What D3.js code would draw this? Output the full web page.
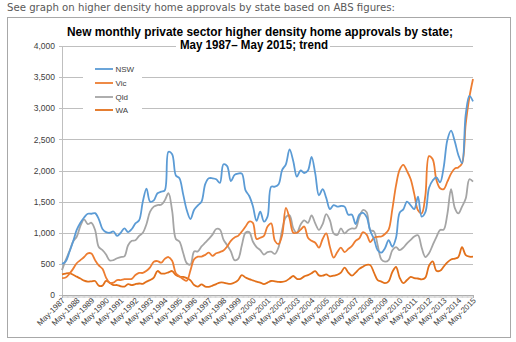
<!DOCTYPE html>
<html>
<head>
<meta charset="utf-8">
<script src="https://cdn.jsdelivr.net/npm/d3@7"></script>
<style>
html,body{margin:0;padding:0;background:#fff;}
svg{display:block;}
</style>
</head>
<body>
<svg id="chart" width="516" height="342"></svg>
<script>
// ---- DATA (quarterly readings, May 1987 – May 2015) ----
const startMonth = "1987-05";
const stepMonths = 3;
const seriesNames = ["NSW", "Vic", "Qld", "WA"];
const nsw = [500,540,690,860,1045,1160,1245,1305,1305,1315,1220,1060,1010,1000,1020,950,1000,1070,1010,1060,
  1150,1200,1500,1710,1500,1520,1635,1660,1680,2300,2260,1920,1875,1620,1360,1220,1370,1440,1500,1780,
  1875,1875,1860,1800,2100,2070,1830,1930,1950,1950,1680,1590,1430,1190,1340,1180,1260,1740,1740,1780,
  2010,2100,2340,2150,1900,2000,1960,2000,2220,1950,1600,1700,1560,1380,1445,1420,1430,1420,1290,1290,
  1140,1290,1320,1250,1030,900,720,680,750,880,775,920,1320,1375,1500,1440,1380,1580,1260,1330,
  1720,1840,1890,1810,2050,2490,2640,2470,2250,2120,2900,3200,3110];
const vic = [270,280,340,420,510,560,610,670,665,560,475,420,280,195,200,240,240,255,255,260,
  320,355,355,390,445,535,545,520,580,610,550,350,300,255,230,400,575,615,618,645,
  680,630,670,690,715,780,870,925,950,1020,1100,1180,1160,900,920,950,1100,1150,870,820,
  965,1400,1230,1000,1000,1050,1100,920,870,840,760,900,990,770,600,690,760,690,740,790,
  870,910,1010,970,850,920,935,940,980,1050,1380,1760,2010,2090,1990,1860,1620,1360,1310,1600,
  2230,2180,1850,1715,1700,1820,1950,2030,2050,2115,2750,3180,3470];
const qld = [400,560,700,860,935,1110,1215,1140,1160,1045,770,720,650,555,560,590,610,620,800,870,
  880,950,1000,1140,1340,1420,1445,1450,1520,1635,1350,900,860,680,510,490,700,700,780,840,
  900,970,1060,1050,890,800,700,560,580,800,1000,1010,860,770,720,650,690,695,660,770,
  1050,1250,1280,1070,1000,1130,1200,1160,1280,1150,1045,1140,1300,1200,990,965,1070,990,1045,1070,
  1070,1250,1365,1330,1045,1020,800,570,535,560,720,770,720,760,830,885,940,960,760,610,
  670,800,930,1045,1050,1300,1700,1400,1310,1420,1550,1860,1820];
const wa = [330,345,350,325,295,265,230,215,220,225,150,150,225,195,160,160,140,135,175,160,
  175,185,180,215,240,280,385,345,345,365,385,320,295,290,270,235,160,135,170,135,
  130,150,175,200,200,185,180,200,240,320,280,255,235,215,200,175,200,225,220,210,
  210,225,265,305,260,260,300,320,350,385,315,310,330,300,310,325,360,440,360,310,
  360,420,455,485,480,360,240,215,190,220,370,450,280,190,240,290,270,265,250,280,
  470,540,390,390,455,525,570,585,610,770,640,615,615];
const yTicks = [0,500,1000,1500,2000,2500,3000,3500,4000];
const xTickLabels = ["May-1987","May-1988","May-1989","May-1990","May-1991","May-1992","May-1993",
  "May-1994","May-1995","May-1996","May-1997","May-1998","May-1999","May-2000","May-2001","May-2002",
  "May-2003","May-2004","May-2005","May-2006","May-2007","May-2008","May-2009","May-2010","May-2011",
  "May-2012","May-2013","May-2014","May-2015"];
const subtitleText = "See graph on higher density home approvals by state based on ABS figures:";
const titleLine1 = "New monthly private sector higher density home approvals by state;";
const titleLine2 = "May 1987\u2013 May 2015; trend";

// ---- BUILD ----
const parseMonth = d3.timeParse("%Y-%m");
const parseLabel = d3.timeParse("%b-%Y");
const t0 = parseMonth(startMonth);
const dates = nsw.map((_, i) => d3.timeMonth.offset(t0, i * stepMonths));
const allSeries = [nsw, vic, qld, wa];
const colors = ["#5B9BD5", "#ED7D31", "#A5A5A5", "#E2701A"];

const svg = d3.select("#chart");
const font = "'Liberation Sans', Arial, sans-serif";

const L = 62, R = 473, T = 46, B = 295;
const x = d3.scaleTime().domain([dates[0], dates[dates.length - 1]]).range([L, R]);
const y = d3.scaleLinear().domain([0, 4000]).range([B, T]);

// subtitle
svg.append("text").attr("x", 7).attr("y", 11)
  .attr("font-family", "'DejaVu Sans', sans-serif").attr("font-size", 10.5)
  .attr("fill", "#595959").attr("textLength", 388).attr("lengthAdjust", "spacingAndGlyphs")
  .text(subtitleText);

// chart border
svg.append("rect").attr("x", 7.5).attr("y", 17.5).attr("width", 503).attr("height", 320)
  .attr("fill", "#fff").attr("stroke", "#a8a8a8").attr("stroke-width", 1);

// gridlines
const grid = svg.append("g").attr("transform", `translate(${L},0)`)
  .call(d3.axisLeft(y).tickValues(yTicks).tickSize(-(R - L)).tickFormat(""));
grid.select(".domain").remove();
grid.selectAll("line").attr("stroke", "#bfbfbf").attr("shape-rendering", "crispEdges");

// y axis labels
const yAx = svg.append("g").attr("transform", `translate(${L},0)`)
  .call(d3.axisLeft(y).tickValues(yTicks).tickSize(3).tickFormat(d3.format(",")));
yAx.select(".domain").attr("stroke", "#bfbfbf").attr("shape-rendering", "crispEdges");
yAx.selectAll("line").attr("stroke", "#bfbfbf").attr("shape-rendering", "crispEdges");
yAx.selectAll("text").attr("font-family", font).attr("font-size", 8.5).attr("fill", "#404040")
  .attr("x", -7);

// x axis: monthly minor ticks
const months = d3.timeMonth.range(dates[0], d3.timeMonth.offset(dates[dates.length - 1], 1));
const xMinor = svg.append("g").attr("transform", `translate(0,${B})`)
  .call(d3.axisBottom(x).tickValues(months).tickSize(3).tickFormat(""));
xMinor.select(".domain").attr("stroke", "#a6a6a6").attr("shape-rendering", "crispEdges");
xMinor.selectAll("line").attr("stroke", "#b8b8b8").attr("stroke-width", 0.6);

// x axis labels
const labelDates = xTickLabels.map(s => parseLabel(s));
const xLab = svg.append("g").attr("transform", `translate(0,${B})`)
  .call(d3.axisBottom(x).tickValues(labelDates).tickSize(0)
    .tickFormat((d, i) => xTickLabels[i]));
xLab.select(".domain").remove();
xLab.selectAll("text")
  .attr("font-family", font).attr("font-size", 8).attr("fill", "#404040")
  .attr("text-anchor", "end").attr("dy", 0).attr("y", 0)
  .attr("transform", "translate(3,6) rotate(-45)");

// lines
const line = d3.line().x((d, i) => x(dates[i])).y(d => y(d)).curve(d3.curveCatmullRom.alpha(0.5));
const order = [2, 3, 1, 0];
order.forEach(k => {
  svg.append("path").datum(allSeries[k]).attr("d", line)
    .attr("fill", "none").attr("stroke", colors[k]).attr("stroke-width", 1.8)
    .attr("stroke-linejoin", "round");
});

// title (with white background covering gridline)
const titleG = svg.append("g");
titleG.append("rect").attr("x", 176).attr("y", 38).attr("width", 154).attr("height", 13)
  .attr("fill", "#fff");
titleG.append("text").attr("x", 260).attr("y", 36).attr("text-anchor", "middle")
  .attr("font-family", font).attr("font-weight", "bold").attr("font-size", 12)
  .attr("fill", "#000").attr("textLength", 386).attr("lengthAdjust", "spacingAndGlyphs")
  .text(titleLine1);
titleG.append("text").attr("x", 254).attr("y", 49).attr("text-anchor", "middle")
  .attr("font-family", font).attr("font-weight", "bold").attr("font-size", 12)
  .attr("fill", "#000").attr("textLength", 148).attr("lengthAdjust", "spacingAndGlyphs")
  .text(titleLine2);

// legend
const lg = svg.append("g");
lg.append("rect").attr("x", 83).attr("y", 60).attr("width", 59).attr("height", 57).attr("fill", "#fff");
const legY = [69, 83, 97, 110];
seriesNames.forEach((n, i) => {
  lg.append("line").attr("x1", 95).attr("x2", 113).attr("y1", legY[i]).attr("y2", legY[i])
    .attr("stroke", colors[i]).attr("stroke-width", 1.8);
  lg.append("text").attr("x", 115.5).attr("y", legY[i] + 3).attr("font-family", font)
    .attr("font-size", 8).attr("fill", "#404040").text(n);
});
</script>
</body>
</html>
